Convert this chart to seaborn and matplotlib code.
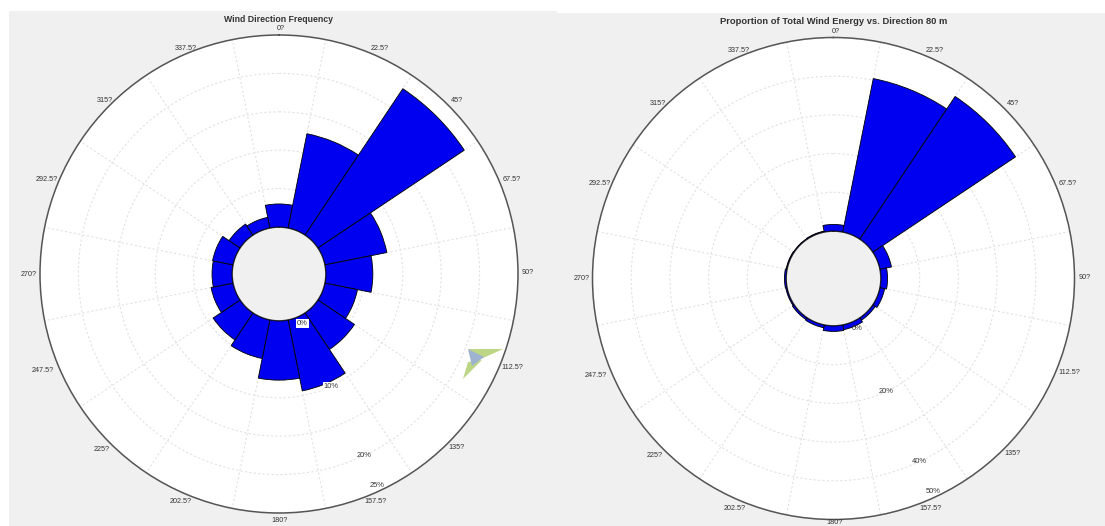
"""Wind rose pair: direction frequency and share of wind energy."""

import numpy as np
import pandas as pd
import matplotlib
matplotlib.use("Agg")
import matplotlib.pyplot as plt
from matplotlib.patches import Polygon, Rectangle
import seaborn as sns

# === DATA ============================================================
directions = [0, 22.5, 45, 67.5, 90, 112.5, 135, 157.5,
              180, 202.5, 225, 247.5, 270, 292.5, 315, 337.5]
direction_labels = ["0?", "22.5?", "45?", "67.5?", "90?", "112.5?", "135?", "157.5?",
                    "180?", "202.5?", "225?", "247.5?", "270?", "292.5?", "315?", "337.5?"]

frequency_pct = [3.0, 12.5, 22.9, 8.2, 6.1, 4.3, 5.7, 9.4,
                 7.7, 5.1, 4.2, 2.9, 2.6, 2.7, 1.7, 1.4]
energy_pct = [1.7, 40.4, 44.3, 3.0, 1.7, 1.2, 0.7, 1.2,
              1.4, 0.7, 0.5, 0.3, 0.4, 0.2, 0.1, 0.2]

frequency_rings = [5, 10, 15, 20, 25]
energy_rings = [10, 20, 30, 40, 50]
frequency_ring_labels = ["0%", "10%", "20%", "25%"]
energy_ring_labels = ["0%", "20%", "40%", "50%"]

# where each direction label sits from the rim, in pixels (x right, y up)
LABEL_OFFSETS = [(2, 6), (9, 5), (9, 5), (12, 3), (10, 1), (13, -2), (9, -5), (5, -7),
                 (1, -8), (-7, -7), (-8, -7), (-15, -5), (-11, 0), (-11, 3), (-5, 5), (-2, 5)]

W, H = 1105, 526
BLUE = "#0000f0"
GRID = "#e2e2e2"
TEXT = "#333333"
PANEL = "#f0f0f0"


def add_rose(fig, cx, cy, radius, hole, values, rings, ring_labels,
             title, title_y, title_size, boxed):
    ax = fig.add_axes([(cx - radius) / W, 1 - (cy + radius) / H,
                       2 * radius / W, 2 * radius / H], projection="polar")
    df = pd.DataFrame({"theta": np.deg2rad(directions), "value": values})
    sns.barplot(data=df, x="theta", y="value", native_scale=True, width=1, ax=ax,
                color=BLUE, saturation=1, edgecolor="black", linewidth=0.6,
                errorbar=None, zorder=3)

    rmax = rings[-1]
    ax.set_theta_zero_location("N")
    ax.set_theta_direction(-1)
    ax.set_xlim(0, 2 * np.pi)
    ax.set_ylim(0, rmax)
    ax.set_rorigin(-rmax * hole / (radius - hole))
    ax.set_xlabel("")
    ax.set_ylabel("")
    ax.set_facecolor("white")

    # spokes sit on the bar edges
    ax.set_xticks(np.deg2rad(directions), [""] * len(directions))
    ax.set_xticks(np.deg2rad(np.array(directions) + 11.25), minor=True)
    ax.tick_params(axis="x", which="both", length=0)
    ax.set_yticks(rings, [""] * len(rings))
    ax.tick_params(axis="y", length=0)
    ax.grid(False)
    ax.grid(True, axis="x", which="minor", color=GRID, ls=(0, (2, 2)), lw=0.8)
    ax.grid(True, axis="y", which="major", color=GRID, ls=(0, (2, 2)), lw=0.8)
    ax.set_axisbelow(True)
    ax.spines["polar"].set_color("#555555")
    ax.spines["polar"].set_linewidth(1.1)

    for deg, txt, (dx, dy) in zip(directions, direction_labels, LABEL_OFFSETS):
        # keep the bottom label inside the picture
        rim_y = cy - radius * np.cos(np.deg2rad(deg))
        if rim_y - dy > H - 4:
            dy = rim_y - (H - 4)
        ax.annotate(txt, xy=(np.deg2rad(deg), rmax), xytext=(dx, dy),
                    textcoords="offset pixels", fontsize=5.2, color=TEXT,
                    ha="center", va="center", annotation_clip=False)

    # radial labels run along one line, the first and last pulled off their rings
    label_theta = np.deg2rad(155)
    label_r = [rmax * 0.04, rings[1], rings[3], rmax * 0.97]
    for i, (r, txt) in enumerate(zip(label_r, ring_labels)):
        bbox = dict(fc="white", ec="none", pad=0.8) if i < boxed else None
        ax.text(label_theta, r, txt, fontsize=5.4, color=TEXT, ha="center", va="center",
                bbox=bbox, zorder=5)

    fig.text(cx / W, 1 - title_y / H, title, fontsize=title_size, fontweight="bold",
             color=TEXT, ha="center", va="center")
    return ax


def px_poly(points, color):
    xy = [(x / W, 1 - y / H) for x, y in points]
    return Polygon(xy, closed=True, transform=fig.transFigure, fc=color, ec="none", zorder=5)


sns.set_theme(style="white", font="Liberation Sans")
fig = plt.figure(figsize=(W / 100, H / 100), dpi=100, facecolor="white")

# grey backing panels of the two pasted screenshots
fig.add_artist(Rectangle((9 / W, 0), 548 / W, 1 - 11 / H, transform=fig.transFigure,
                         fc=PANEL, ec="none", zorder=-1))
fig.add_artist(Rectangle((557 / W, 0), 548 / W, 1 - 13 / H, transform=fig.transFigure,
                         fc=PANEL, ec="none", zorder=-1))

add_rose(fig, 279, 274, 239, 47, frequency_pct, frequency_rings, frequency_ring_labels,
         "Wind Direction Frequency", 19, 6.3, boxed=2)
add_rose(fig, 833.5, 278.5, 241, 47.5, energy_pct, energy_rings, energy_ring_labels,
         "Proportion of Total Wind Energy vs. Direction 80 m", 22, 6.75, boxed=0)

# small watermark logo on the left rose
fig.add_artist(px_poly([(468, 349), (503, 349), (483, 358)], "#bcd685"))
fig.add_artist(px_poly([(463, 379), (468, 362), (482, 360)], "#bcd685"))
fig.add_artist(px_poly([(468, 349), (484, 357), (472, 366)], "#9db3cf"))

fig.savefig("out.png", dpi=100, facecolor=fig.get_facecolor())
